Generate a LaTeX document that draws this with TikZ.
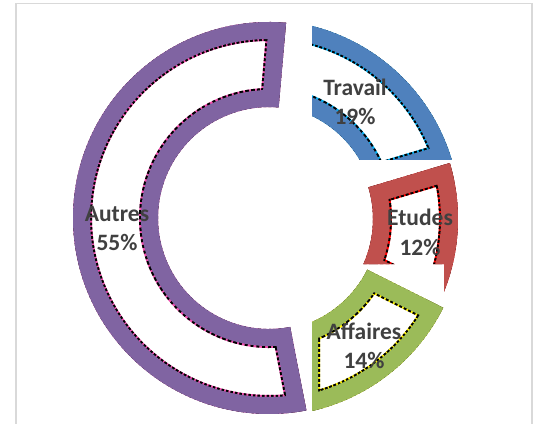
\documentclass[tikz,border=0pt]{standalone}
\usepackage{fontspec}
\setmainfont{Carlito}

\definecolor{travailblue}{HTML}{4F81BD}
\definecolor{etudesred}{HTML}{C0504D}
\definecolor{affairesgreen}{HTML}{9BBB59}
\definecolor{autrespurple}{HTML}{8064A2}
\definecolor{labelgray}{HTML}{404040}
\definecolor{framegray}{HTML}{D9D9D9}

\newcommand{\Rout}{196}
\newcommand{\Rin}{111}

% one piece of the ring: centre, colour, rim colour; outline in \segp
\newcommand{\ringpiece}[3]{%
  \begin{scope}[shift={#1}]
    \clip \segp;
    \fill[white] \segp;
    \draw[#3, line width=38] \segp;
    \draw[black, line width=38, dash pattern=on 3pt off 2pt] \segp;
    \draw[#2, line width=34] \segp;
  \end{scope}}

\begin{document}
\begin{tikzpicture}[
    x=1pt, y=1pt,
    lbl/.style={align=center, text=labelgray, font=\fontsize{23.5}{29.5}\selectfont\bfseries}
]
    \useasboundingbox (0,0) rectangle (537,423);
    \draw[framegray, line width=1.5] (16,-10) rectangle (532,419.5);

    % Autres
    \def\segp{(85:\Rout) arc[start angle=85, end angle=281, radius=\Rout] -- (281:\Rin) arc[start angle=281, end angle=85, radius=\Rin] -- cycle}
    \ringpiece{(269,205)}{autrespurple}{magenta!70}

    % Travail
    \begin{scope}
        \clip (312,263) rectangle (537,423);
        \def\segp{(85:\Rout) arc[start angle=85, end angle=16.6, radius=\Rout] -- (16.6:\Rin) arc[start angle=16.6, end angle=85, radius=\Rin] -- cycle}
        \ringpiece{(264,207)}{travailblue}{cyan}
    \end{scope}

    % Etudes
    \begin{scope}
        \clip (444,0) -- (537,0) -- (537,423) -- (300,423) -- (300,159) -- (444,159) -- cycle;
        \def\segp{(16.6:\Rout) arc[start angle=16.6, end angle=-26.6, radius=\Rout] -- (-26.6:\Rin) arc[start angle=-26.6, end angle=16.6, radius=\Rin] -- cycle}
        \ringpiece{(262,204)}{etudesred}{red}
    \end{scope}

    % Affaires
    \begin{scope}
        \clip (312,0) rectangle (537,423);
        \def\segp{(-26.6:\Rout) arc[start angle=-26.6, end angle=-80.3, radius=\Rout] -- (-72.7:\Rin) arc[start angle=-72.7, end angle=-26.6, radius=\Rin] -- cycle}
        \ringpiece{(268,203)}{affairesgreen}{yellow}
    \end{scope}

    \node[lbl] (travail) at (355,321) {Travail\\19\%};
    \node[lbl] (etudes) at (420,190.5) {Etudes\\12\%};
    \node[lbl] (affaires) at (364,77) {Affaires\\14\%};
    \node[lbl] (autres) at (117,194.5) {Autres\\55\%};
\end{tikzpicture}
\end{document}
